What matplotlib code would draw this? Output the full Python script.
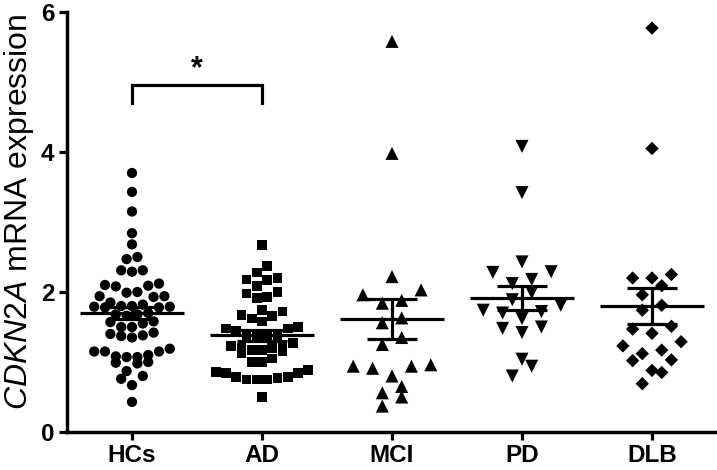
import numpy as np
import matplotlib
matplotlib.use('Agg')
import matplotlib.pyplot as plt

plt.rcParams['font.family'] = ['Liberation Sans', 'DejaVu Sans']
plt.rcParams['mathtext.fontset'] = 'custom'
plt.rcParams['mathtext.it'] = 'Liberation Sans:italic'
plt.rcParams['mathtext.rm'] = 'Liberation Sans'

# ---- data ----
groups = ['HCs', 'AD', 'MCI', 'PD', 'DLB']

hcs = [3.70, 3.43, 3.15, 2.84, 2.68, 2.50, 2.47, 2.31, 2.29, 2.31, 2.10, 2.08,
       2.12, 2.09, 1.99, 1.94, 1.93, 1.94, 2.00, 1.85,
       1.80, 1.79, 1.78, 1.78, 1.79, 1.80, 1.82,
       1.70, 1.68, 1.66, 1.68,
       1.58, 1.55, 1.57, 1.50, 1.50, 1.42, 1.38, 1.37, 1.40, 1.35,
       1.15, 1.15, 1.08, 1.07, 1.07, 1.10, 1.15, 1.19, 1.00, 0.98, 0.99,
       0.87, 0.80, 0.76, 0.67, 0.43]

ad = [2.67, 2.37, 2.28, 2.18, 2.20, 2.17, 2.09, 2.00, 1.93, 1.91, 1.98,
      1.74, 1.62, 1.72, 1.67, 1.66, 1.58, 1.50, 1.48, 1.44, 1.48,
      1.38, 1.36, 1.37, 1.39,
      1.22, 1.20, 1.17, 1.15, 1.13, 1.17, 1.20, 1.23, 1.27,
      1.00, 1.05, 1.00,
      0.86, 0.84, 0.84, 0.79, 0.77, 0.79, 0.89, 0.75, 0.75, 0.75, 0.50]

mci = [5.58, 3.98, 2.22, 1.96, 2.03, 1.84, 1.88, 1.63, 1.56, 1.35, 1.25,
       0.94, 0.91, 0.94, 0.96, 0.80, 0.56, 0.65, 0.50, 0.37]

pd_ = [4.08, 3.42, 2.43, 2.28, 2.29, 2.12, 2.18, 1.89, 1.99, 1.81, 1.74,
       1.62, 1.70, 1.72, 1.48, 1.42, 1.50, 1.04, 0.94, 0.80]

dlb = [5.77, 4.05, 2.20, 2.09, 2.20, 2.25, 1.96, 1.81, 1.74, 1.47, 1.51,
       1.41, 1.29, 1.17, 1.23, 1.12, 1.03, 1.02, 0.88, 0.85, 0.69]

means = [1.70, 1.38, 1.61, 1.92, 1.80]
sems = [0.085, 0.075, 0.285, 0.17, 0.26]

yticks = [0, 2, 4, 6]
ylabel_italic = 'CDKN2A'
ylabel_rest = ' mRNA expression'
sig_pair = (0, 1)
sig_text = '*'

# ---- figure ----
W, H = 717, 470
fig = plt.figure(figsize=(W / 100, H / 100), dpi=100)
ax = fig.add_axes([67 / W, 38 / H, 650 / W, 420 / H])
ax.set_xlim(-0.5, 4.5)
ax.set_ylim(0, 6)

px_per_x = (ax.transData.transform((1, 0)) - ax.transData.transform((0, 0)))[0]


def layout(vals, step_px, bin_h):
    vals = np.asarray(vals, dtype=float)
    order = np.argsort(vals, kind='stable')
    offs = np.zeros(len(vals))
    bins = []
    cur = [order[0]]
    start = vals[order[0]]
    for idx in order[1:]:
        if vals[idx] - start < bin_h:
            cur.append(idx)
        else:
            bins.append(cur)
            cur = [idx]
            start = vals[idx]
    bins.append(cur)
    for b in bins:
        n = len(b)
        if n % 2 == 1:
            slots = [0] + [s * k for k in range(1, n // 2 + 1) for s in (-1, 1)]
        else:
            slots = [s * (k - 0.5) for k in range(1, n // 2 + 1) for s in (-1, 1)]
        for idx, sl in zip(b, slots):
            offs[idx] = sl * step_px
    return offs / px_per_x


series = [hcs, ad, mci, pd_, dlb]
markers = ['o', 's', '^', 'v', 'D']
msizes = [7.4, 7.0, 9.4, 9.4, 6.8]
steps = [10.8, 10.3, 19.4, 19.4, 19.4]
binh = [0.14, 0.15, 0.19, 0.19, 0.19]

for i, vals in enumerate(series):
    xo = layout(vals, steps[i], binh[i])
    ax.scatter(i + xo, vals, marker=markers[i], s=msizes[i] ** 2,
               color='black', edgecolors='none', zorder=2, clip_on=False)
    m, e = means[i], sems[i]
    ax.hlines(m, i - 0.4, i + 0.4, color='black', lw=2.3, zorder=3)
    ax.hlines([m - e, m + e], i - 0.195, i + 0.195, color='black', lw=2.3, zorder=3)
    ax.vlines(i, m - e, m + e, color='black', lw=2.3, zorder=3)

# significance bracket
a, b = sig_pair
ax.plot([a, a, b, b], [4.70, 4.96, 4.96, 4.70], color='black', lw=2.3,
        solid_joinstyle='miter', zorder=3)
ax.text((a + b) / 2, 5.18, sig_text, ha='center', va='center',
        fontsize=22, fontweight='bold')

# axes styling
for s in ['top', 'right']:
    ax.spines[s].set_visible(False)
for s in ['left', 'bottom']:
    ax.spines[s].set_linewidth(2.5)
ax.set_xticks(range(len(groups)))
ax.set_xticklabels(groups)
ax.set_yticks(yticks)
ax.set_yticklabels([str(t) for t in yticks])
ax.tick_params(axis='both', direction='out', length=6, width=2.3,
               labelsize=17.5, pad=3)
for lab in ax.get_xticklabels() + ax.get_yticklabels():
    lab.set_fontweight('bold')

fig.text(2 / W, 1 - 212 / H, r'$\it{' + ylabel_italic + '}$' + ylabel_rest,
         rotation=90, ha='left', va='center', fontsize=23)

fig.savefig('out.png', dpi=100)
